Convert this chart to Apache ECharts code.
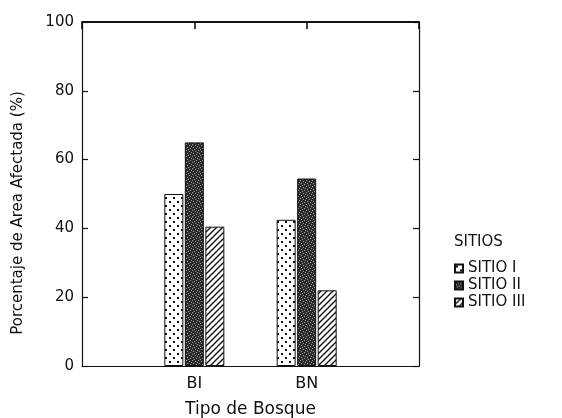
<!DOCTYPE html>
<html>
<head>
<meta charset="utf-8">
<script src="https://cdn.jsdelivr.net/npm/echarts@6/dist/echarts.min.js"></script>
<style>
  html, body { margin: 0; padding: 0; background: #fff; }
  #chart { width: 562px; height: 418px; }
</style>
</head>
<body>
<div id="chart"></div>
<script>
// Forest types on the x axis (blank slots pad the frame on both sides)
const categories = ['', 'BI', 'BN', ''];
const seriesNames = ['SITIO I', 'SITIO II', 'SITIO III'];
// Percentage of affected area per site
const sitio1 = [null, 50, 42.5, null];
const sitio2 = [null, 65, 54.5, null];
const sitio3 = [null, 40.5, 22, null];
const yTicks = [0, 20, 40, 60, 80, 100];

// Monochrome fill textures for the bars
function makePattern(size, draw) {
  const c = document.createElement('canvas');
  c.width = size; c.height = size;
  const g = c.getContext('2d');
  draw(g, size);
  return { image: c, repeat: 'repeat' };
}
const dots = makePattern(8, (g, s) => {
  g.fillStyle = '#fff'; g.fillRect(0, 0, s, s);
  g.fillStyle = '#111';
  g.fillRect(1, 1, 2, 2);
  g.fillRect(5, 5, 2, 2);
});
const speckle = makePattern(6, (g, s) => {
  g.fillStyle = '#2b2b2b'; g.fillRect(0, 0, s, s);
  g.fillStyle = '#9a9a9a';
  [[0, 0], [3, 1], [1, 3], [4, 4], [5, 2], [2, 5]].forEach(p => g.fillRect(p[0], p[1], 1, 1));
});
const hatch = makePattern(6, (g, s) => {
  g.fillStyle = '#fff'; g.fillRect(0, 0, s, s);
  g.strokeStyle = '#111'; g.lineWidth = 1.4;
  g.beginPath();
  g.moveTo(-1, s + 1); g.lineTo(s + 1, -1);
  g.moveTo(-1, 1); g.lineTo(1, -1);
  g.moveTo(s - 1, s + 1); g.lineTo(s + 1, s - 1);
  g.stroke();
});
const fills = [dots, speckle, hatch];
const values = [sitio1, sitio2, sitio3];

const font = 'DejaVu Sans, Verdana, sans-serif';
const ink = '#111';
const lineStyle = { color: ink, width: 1.2 };

const chart = echarts.init(document.getElementById('chart'), null, { renderer: 'canvas' });
chart.setOption({
  animation: false,
  backgroundColor: '#fff',
  textStyle: { fontFamily: font },
  title: {
    text: 'SITIOS',
    left: 454, top: 235,
    padding: 0,
    textStyle: { fontFamily: font, fontSize: 15, fontWeight: 'normal', color: ink }
  },
  legend: {
    orient: 'vertical',
    left: 454, top: 261,
    padding: 0,
    itemWidth: 8, itemHeight: 8,
    itemGap: 2,
    icon: 'rect',
    data: seriesNames,
    textStyle: { fontFamily: font, fontSize: 15, color: ink, padding: [0, 0, 0, 0] }
  },
  grid: { left: 82, right: 143, top: 22, bottom: 52, outerBoundsMode: 'none', containLabel: false },
  xAxis: [
    {
      type: 'category',
      data: categories,
      boundaryGap: false,
      name: 'Tipo de Bosque',
      nameLocation: 'middle',
      nameGap: 35,
      nameTextStyle: { fontFamily: font, fontSize: 17, color: ink },
      axisLine: { onZero: false, lineStyle },
      axisTick: { show: false },
      axisLabel: { fontFamily: font, fontSize: 16, color: ink, margin: 10 }
    },
    {
      // top frame: one short inward tick per category slot
      type: 'value',
      min: 0, max: categories.length - 1, interval: 1,
      position: 'top',
      axisLine: { show: true, onZero: false, lineStyle: { color: ink, width: 1.8 } },
      axisTick: { show: true, inside: true, length: 7, lineStyle: { color: '#000', width: 1.5 } },
      splitLine: { show: false },
      axisLabel: { show: true, formatter: () => '' }
    }
  ],
  yAxis: [
    {
      type: 'value',
      min: 0, max: 100, interval: 20,
      name: 'Porcentaje de Area Afectada (%)',
      nameLocation: 'middle',
      nameGap: 56,
      nameTextStyle: { fontFamily: font, fontSize: 15, color: ink, padding: [0, 38, 0, 0] },
      axisLine: { show: true, onZero: false, lineStyle },
      axisTick: { show: true, inside: true, length: 6, lineStyle },
      splitLine: { show: false },
      axisLabel: {
        fontFamily: font, fontSize: 15, color: ink, margin: 8,
        formatter: v => (yTicks.indexOf(v) >= 0 ? String(v) : '')
      }
    },
    {
      type: 'value',
      min: 0, max: 100, interval: 20,
      position: 'right',
      axisLine: { show: true, onZero: false, lineStyle },
      axisTick: { show: true, inside: true, length: 6, lineStyle },
      splitLine: { show: false },
      axisLabel: { show: false }
    }
  ],
  series: seriesNames.map((name, i) => ({
    name,
    type: 'bar',
    data: values[i],
    barWidth: 19,
    barGap: '8%',
    itemStyle: { color: fills[i], borderColor: ink, borderWidth: 1 }
  }))
});
</script>
</body>
</html>
